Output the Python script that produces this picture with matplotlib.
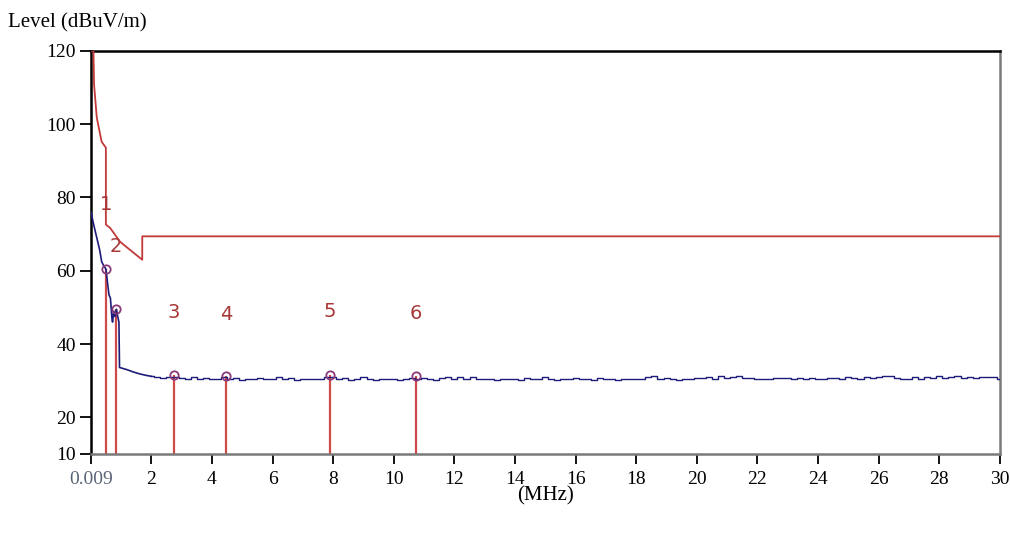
### conducted emission scan, 9 kHz - 30 MHz, with limit line and peak markers
import matplotlib
matplotlib.use('Agg')
import matplotlib.pyplot as plt
import numpy as np

# limit line (dBuV/m)
limit_freq = [0.009, 0.09, 0.11, 0.20, 0.36, 0.50, 0.50, 0.64, 0.97, 1.70, 1.70, 30.0]
limit_level = [120.0, 120.0, 110.8, 101.8, 95.2, 93.6, 72.6, 71.7, 67.9, 63.0, 69.4, 69.4]

# measured trace, low part given point by point
trace_freq_low = [0.009, 0.10, 0.20, 0.30, 0.36, 0.42, 0.50, 0.55, 0.60, 0.65,
                  0.70, 0.72, 0.76, 0.80, 0.85, 0.88, 0.93, 0.95, 1.00, 1.20,
                  1.40, 1.60, 1.80, 2.00]
trace_level_low = [76.0, 72.5, 69.0, 65.5, 62.5, 61.5, 60.5, 57.0, 53.5, 52.5,
                   47.0, 46.0, 49.0, 47.5, 49.5, 48.0, 46.0, 33.6, 33.5, 33.0,
                   32.4, 31.9, 31.5, 31.2]

# 2.2 .. 30 MHz in 0.2 MHz steps
trace_freq_high = np.round(np.arange(2.2, 30.01, 0.2), 2)
trace_level_high = [
    31.0, 30.8, 30.9, 31.1, 30.7, 30.6, 30.9, 30.5, 30.8, 30.6,
    30.4, 30.9, 30.5, 30.7, 30.3, 30.6, 30.4, 30.8, 30.5, 30.6,
    30.9, 30.4, 30.7, 30.3, 30.5, 30.5, 30.4, 30.6, 30.9, 31.0,
    30.5, 30.8, 30.3, 30.6, 30.9, 30.4, 30.2, 30.6, 30.4, 30.5,
    30.3, 30.6, 30.7, 30.4, 30.8, 30.5, 30.3, 30.7, 30.9, 30.4,
    31.0, 30.6, 31.1, 30.5, 30.4, 30.6, 30.2, 30.5, 30.4, 30.6,
    30.3, 30.8, 30.5, 30.4, 30.9, 30.6, 30.3, 30.5, 30.4, 30.7,
    30.5, 30.6, 30.3, 30.8, 30.5, 30.4, 30.3, 30.5, 30.4, 30.6,
    30.5, 30.9, 31.3, 30.4, 30.7, 30.5, 30.3, 30.6, 30.5, 30.8,
    30.7, 30.9, 30.6, 31.2, 30.7, 31.1, 31.3, 30.7, 30.8, 30.5,
    30.6, 30.4, 30.7, 30.7, 30.8, 30.5, 30.7, 30.6, 30.8, 30.6,
    30.5, 30.7, 30.8, 30.6, 31.1, 30.8, 30.6, 30.9, 30.7, 31.0,
    31.2, 31.2, 30.7, 30.6, 30.5, 30.9, 30.6, 31.1, 30.8, 31.2,
    30.7, 31.0, 31.2, 30.8, 30.9, 30.7, 31.0, 31.0, 30.9, 30.6,
]

# peak markers
marker_id = ['1', '2', '3', '4', '5', '6']
marker_freq = [0.50, 0.83, 2.74, 4.46, 7.89, 10.73]
marker_level = [60.5, 49.5, 31.6, 31.3, 31.6, 31.3]
label_level = [78.0, 66.5, 48.5, 48.0, 48.8, 48.3]

xticks = [0.009, 2, 4, 6, 8, 10, 12, 14, 16, 18, 20, 22, 24, 26, 28, 30]
xtick_labels = ['0.009'] + [str(t) for t in xticks[1:]]
yticks = [10, 20, 40, 60, 80, 100, 120]

serif = 'Liberation Serif'
red = '#c23a3a'
navy = '#1c1c7a'

fig = plt.figure(figsize=(10.10, 5.36), dpi=100)
ax = fig.add_axes([0.0901, 0.153, 0.8999, 0.752])

ax.plot(limit_freq, limit_level, color=red, lw=1.3, zorder=3)
ax.vlines(marker_freq, 10, marker_level, color='#d04a4a', lw=1.6, zorder=2)

ax.plot(trace_freq_low, trace_level_low, color=navy, lw=1.2, zorder=4)
ax.plot(np.r_[trace_freq_low[-1], trace_freq_high],
        np.r_[trace_level_low[-1], trace_level_high],
        color=navy, lw=1.0, zorder=4, drawstyle='steps-mid')

ax.plot(marker_freq, marker_level, 'o', ms=6, mfc='none', mec='#8a3a7a', mew=1.3, zorder=5)
for mid, mf, ml in zip(marker_id, marker_freq, label_level):
    ax.text(mf, ml, mid, color='#a83838', fontsize=14, family='DejaVu Sans',
            ha='center', va='center', zorder=6)

ax.set_xlim(0.009, 30)
ax.set_ylim(10, 120)
ax.set_xticks(xticks)
ax.set_xticklabels(xtick_labels, fontsize=14, family=serif)
ax.get_xticklabels()[0].set_color('#5a6478')
ax.set_yticks(yticks)
ax.set_yticklabels([str(t) for t in yticks], fontsize=14, family=serif)
ax.tick_params(axis='y', direction='out', length=8, width=1.3, pad=3)
ax.tick_params(axis='x', direction='out', length=7, width=1.3, pad=5)

for side in ['left', 'top']:
    ax.spines[side].set_color('black')
    ax.spines[side].set_linewidth(1.8)
for side in ['right', 'bottom']:
    ax.spines[side].set_color('#7a7a7a')
    ax.spines[side].set_linewidth(1.8)

fig.text(0.008, 0.958, 'Level (dBuV/m)', fontsize=15, family=serif, ha='left', va='center')
fig.text(0.54, 0.075, '(MHz)', fontsize=15, family=serif, ha='center', va='center')

fig.savefig('out.png', dpi=100, facecolor='white')
